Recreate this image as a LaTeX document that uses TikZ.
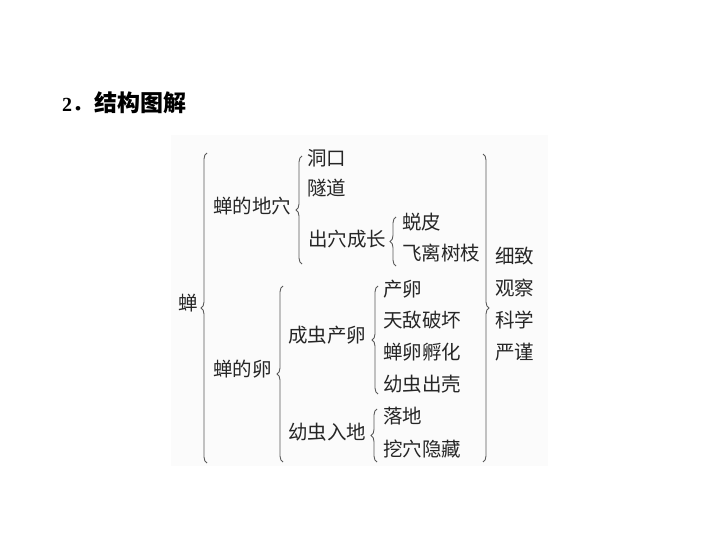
\documentclass[tikz,border=0pt]{standalone}
\usepackage{fontspec}
\setmainfont{Liberation Serif}
\newfontfamily\cjk{Noto Sans CJK SC}
\usetikzlibrary{decorations.pathreplacing}
\begin{document}
\begin{tikzpicture}[x=1pt,y=-1pt,
  lbl/.style={font=\cjk\fontsize{19.5}{19.5}\selectfont, inner sep=0pt, anchor=west, text=black!85},
  brc/.style={draw=black!65, line width=0.9pt, decorate, decoration={brace, amplitude=6pt}},
]
\useasboundingbox (0,0) rectangle (720,540);
\fill[black!1.5] (171,135) rectangle (548,466);
\node[anchor=west, inner sep=0pt] (title) at (62,103) {\fontsize{20}{20}\selectfont\bfseries 2{\cjk\fontsize{20}{20}\selectfont ．}\hspace{2pt}{\cjk\fontsize{23}{23}\selectfont 结构图解}};

% root
\node[lbl] (chan) at (178,303) {蝉};
\coordinate (b1t) at (207,153); \coordinate (b1b) at (207,463);
\draw[brc] (b1b) -- (b1t);

% level 1
\node[lbl] (dixue) at (213,206) {蝉的地穴};
\node[lbl] (luan) at (213,369) {蝉的卵};
\coordinate (b2t) at (302,156); \coordinate (b2b) at (302,264);
\draw[brc] (b2b) -- (b2t);
\coordinate (b3t) at (283,286); \coordinate (b3b) at (283,462);
\draw[brc] (b3b) -- (b3t);

% under 地穴
\node[lbl] (dongkou) at (307,158) {洞口};
\node[lbl] (suidao) at (307,188) {隧道};
\node[lbl] (chuxue) at (308,239) {出穴成长};
\coordinate (b4t) at (396,217); \coordinate (b4b) at (396,266);
\draw[brc] (b4b) -- (b4t);
\node[lbl] (tuipi) at (402,222) {蜕皮};
\node[lbl] (feili) at (402,253) {飞离树枝};

% under 卵
\node[lbl] (chanluan1) at (288,335) {成虫产卵};
\coordinate (b5t) at (378,286); \coordinate (b5b) at (378,394);
\draw[brc] (b5b) -- (b5t);
\node[lbl] (chanluan) at (383,289) {产卵};
\node[lbl] (tiandi) at (383,320) {天敌破坏};
\node[lbl] (fuhua) at (383,352) {蝉卵孵化};
\node[lbl] (chuke) at (383,384) {幼虫出壳};

\node[lbl] (rudi) at (288,432) {幼虫入地};
\coordinate (b6t) at (377,409); \coordinate (b6b) at (377,462);
\draw[brc] (b6b) -- (b6t);
\node[lbl] (luodi) at (383,416) {落地};
\node[lbl] (waxue) at (383,449) {挖穴隐藏};

% right brace
\coordinate (b7t) at (483,154); \coordinate (b7b) at (483,462);
\draw[brc] (b7t) -- (b7b);
\node[lbl] (xizhi) at (495,256) {细致};
\node[lbl] (guancha) at (495,288) {观察};
\node[lbl] (kexue) at (495,320) {科学};
\node[lbl] (yanjin) at (495,352) {严谨};
\end{tikzpicture}
\end{document}
